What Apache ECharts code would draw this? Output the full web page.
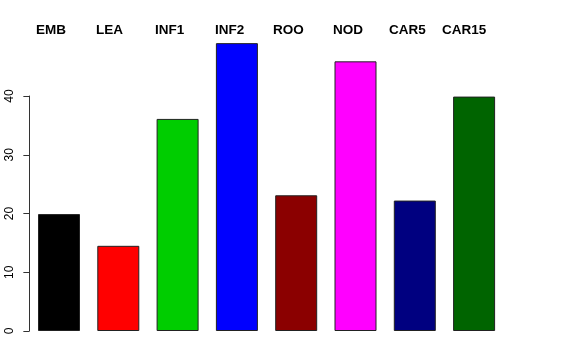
<!DOCTYPE html>
<html>
<head>
<meta charset="utf-8">
<script src="https://cdn.jsdelivr.net/npm/echarts@6/dist/echarts.min.js"></script>
<style>html,body{margin:0;padding:0;background:#fff;}#c{width:576px;height:360px;}</style>
</head>
<body>
<div id="c"></div>
<script>
var categories = ['EMB', 'LEA', 'INF1', 'INF2', 'ROO', 'NOD', 'CAR5', 'CAR15'];
var values = [19.9, 14.5, 36.1, 49.0, 23.1, 45.9, 22.2, 39.9];
var colors = ['#000000', '#FF0000', '#00CD00', '#0000FF', '#8B0000', '#FF00FF', '#000080', '#006400'];
var yTicks = [0, 10, 20, 30, 40];

var chart = echarts.init(document.getElementById('c'), null, {renderer: 'canvas'});
var labelLeft = [36, 96, 155, 215, 273, 333, 389, 442];
var font = 'Liberation Sans, Arial, Helvetica, sans-serif';
var gl = 29.35, gr = 72.25;
var option = {
  animation: false,
  backgroundColor: '#ffffff',
  grid: [
    {left: gl, right: gr, top: 37.25, bottom: 29},
    {left: gl, right: gr, top: 96, bottom: 29}
  ],
  xAxis: [
    {type: 'category', data: categories, gridIndex: 0, show: false},
    {type: 'category', data: categories, gridIndex: 1, show: false}
  ],
  yAxis: [
    {type: 'value', gridIndex: 0, min: 0, max: 50, show: false},
    {type: 'value', gridIndex: 1, min: yTicks[0], max: yTicks[yTicks.length - 1], interval: 10,
     splitLine: {show: false},
     axisLine: {show: true, lineStyle: {color: '#333333', width: 1}},
     axisTick: {show: true, length: 6, lineStyle: {color: '#333333', width: 1}},
     axisLabel: {show: true, rotate: 90, margin: 20, color: '#000', fontSize: 12, fontFamily: font,
       verticalAlign: 'middle', align: 'center'}
    }
  ],
  series: [
    {type: 'bar', xAxisIndex: 0, yAxisIndex: 0, barWidth: 42,
     data: values.map(function (v, i) {
       return {value: v, itemStyle: {color: colors[i]}};
     }),
     itemStyle: {borderColor: '#222222', borderWidth: 1}
    },
    {type: 'bar', xAxisIndex: 1, yAxisIndex: 1, data: []}
  ],
  graphic: categories.map(function (c, i) {
    return {type: 'text', left: labelLeft[i], top: 23,
      style: {text: c, fill: '#000', font: 'bold 13.5px ' + font}};
  })
};
chart.setOption(option);
</script>
</body>
</html>
